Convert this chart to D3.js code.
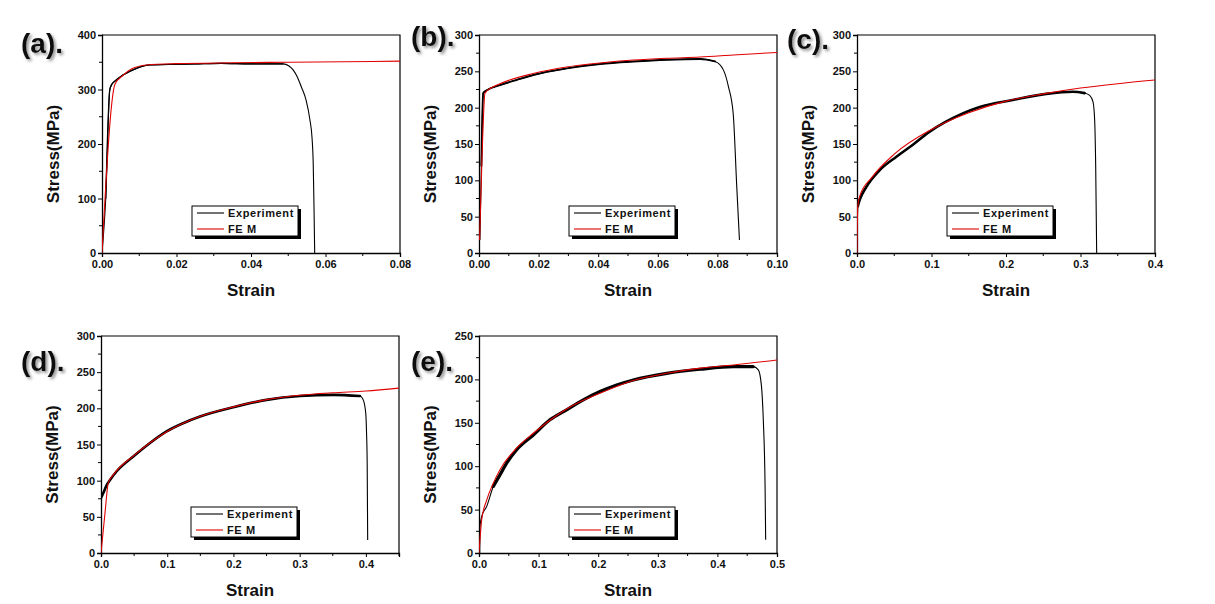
<!DOCTYPE html>
<html>
<head>
<meta charset="utf-8">
<script src="https://cdn.jsdelivr.net/npm/d3@7"></script>
<style>
html,body{margin:0;padding:0;background:#fff;}
svg{display:block;font-family:"Liberation Sans",Arial,sans-serif;}
</style>
</head>
<body>
<svg id="chart" width="1215" height="604"></svg>
<script>
// ---------- data (strain, stress MPa) ----------
const panelLabels = ["(a).", "(b).", "(c).", "(d).", "(e)."];
const seriesNames = ["Experiment", "FE M"];
const xTickLabelsA = ["0.00", "0.02", "0.04", "0.06", "0.08"];
const xTickLabelsB = ["0.00", "0.02", "0.04", "0.06", "0.08", "0.10"];
const xTickLabelsC = ["0.0", "0.1", "0.2", "0.3", "0.4"];
const xTickLabelsD = ["0.0", "0.1", "0.2", "0.3", "0.4"];
const xTickLabelsE = ["0.0", "0.1", "0.2", "0.3", "0.4", "0.5"];
const yTicksA = [0, 100, 200, 300, 400];
const yTicksB = [0, 50, 100, 150, 200, 250, 300];
const yTicksC = [0, 50, 100, 150, 200, 250, 300];
const yTicksD = [0, 50, 100, 150, 200, 250, 300];
const yTicksE = [0, 50, 100, 150, 200, 250];

const expA = [[0,0],[0.001,100],[0.0021,300],[0.0026,309],[0.0034,315],[0.0055,326],[0.0083,336],[0.0105,342],[0.0128,345],[0.018,346],[0.025,347],[0.032,348],[0.04,347],[0.0486,347],[0.0502,343],[0.0513,336],[0.0525,322],[0.0535,305],[0.0548,280],[0.0558,245],[0.0564,210],[0.0567,165],[0.0569,90],[0.0571,0]];
const femA = [[0,0],[0.0035,310],[0.0055,325],[0.008,338],[0.012,345],[0.02,347.5],[0.035,349],[0.05,350],[0.065,351],[0.08,352]];

const expB = [[0.0003,18],[0.0008,120],[0.0014,220],[0.0026,224],[0.007,231],[0.0125,238],[0.0182,245],[0.0294,254],[0.0406,260],[0.0518,263.5],[0.063,266],[0.0742,267],[0.0792,263.6],[0.082,252],[0.0837,229],[0.0853,192],[0.0865,91],[0.0874,18]];
const femB = [[0.0002,18],[0.001,130],[0.002,220],[0.004,227],[0.007,233],[0.0182,247],[0.0294,256],[0.0406,261.5],[0.0518,265.5],[0.063,268],[0.0742,269.7],[0.0853,272.5],[0.1,276]];

const expC = [[0,0],[0.001,64],[0.0036,73],[0.0126,91],[0.0305,114],[0.0529,132.5],[0.075,149],[0.0976,167],[0.12,181],[0.1647,201],[0.209,210.6],[0.254,219],[0.29,222],[0.3055,220],[0.3123,217],[0.3168,208],[0.319,183],[0.3204,119],[0.3217,0]];
const femC = [[0,0],[0.001,64],[0.0036,78],[0.02,104],[0.05,136],[0.1,170],[0.15,193],[0.2,209],[0.25,219],[0.3,227],[0.35,233],[0.4,238]];

const expD = [[0,37],[0.001,78],[0.0035,83],[0.0086,94],[0.0136,101],[0.0237,113],[0.0488,133.4],[0.074,152],[0.099,168],[0.124,179.4],[0.1495,188.7],[0.1998,201.5],[0.25,211.7],[0.3005,217],[0.351,218.6],[0.391,217],[0.396,211.7],[0.3998,193],[0.401,166],[0.402,120],[0.4027,18]];
const femD = [[0,0],[0.006,55],[0.011,97],[0.0186,108],[0.05,135],[0.1,168],[0.15,189],[0.2,202],[0.25,212],[0.3,218],[0.35,221.5],[0.4,224],[0.45,228]];

const expE = [[0.0012,0],[0.0017,30.7],[0.0045,42],[0.0129,53.7],[0.024,76.7],[0.0352,90],[0.0464,103.5],[0.0632,119],[0.0912,136],[0.119,153.4],[0.147,165],[0.175,176.4],[0.203,186],[0.231,193.6],[0.259,199.4],[0.315,207],[0.371,211.7],[0.427,214.7],[0.46,214.7],[0.4687,211],[0.474,191.7],[0.477,153.4],[0.48,76.7],[0.481,15.3]];
const femE = [[0,0],[0.0045,38],[0.0129,61],[0.024,80.5],[0.0352,96],[0.0632,121],[0.0912,138],[0.119,153],[0.147,166],[0.203,184],[0.259,198.7],[0.315,207],[0.371,213],[0.427,216.6],[0.5,222.4]];

// ---------- layout ----------
const panels = [
  {label: panelLabels[0], exp: expA, fem: femA, xMax: 0.08, xStep: 0.02, yMax: 400, yStep: 100, xLabels: xTickLabelsA, yTicks: yTicksA,
   x0: 102, x1: 400, y0: 35, y1: 253, lx: 21, ly: 53, band: 1.3, dropAt: 0.049},
  {label: panelLabels[1], exp: expB, fem: femB, xMax: 0.10, xStep: 0.02, yMax: 300, yStep: 50, xLabels: xTickLabelsB, yTicks: yTicksB,
   x0: 479, x1: 777, y0: 35, y1: 253, lx: 411, ly: 46, band: 1.9, dropAt: 0.08},
  {label: panelLabels[2], exp: expC, fem: femC, xMax: 0.4, xStep: 0.1, yMax: 300, yStep: 50, xLabels: xTickLabelsC, yTicks: yTicksC,
   x0: 857, x1: 1155, y0: 35, y1: 253, lx: 787, ly: 49, band: 2.6, dropAt: 0.31},
  {label: panelLabels[3], exp: expD, fem: femD, xMax: 0.45, xStep: 0.1, yMax: 300, yStep: 50, xLabels: xTickLabelsD, yTicks: yTicksD,
   x0: 101, x1: 399, y0: 336, y1: 553, lx: 21, ly: 371, band: 2.6, dropAt: 0.392},
  {label: panelLabels[4], exp: expE, fem: femE, xMax: 0.5, xStep: 0.1, yMax: 250, yStep: 50, xLabels: xTickLabelsE, yTicks: yTicksE,
   x0: 479, x1: 777, y0: 336, y1: 553, lx: 411, ly: 371, band: 3.2, dropAt: 0.465}
];

const RED = "#e00000";
const svg = d3.select("#chart");

const defs = svg.append("defs");
const f = defs.append("filter").attr("id", "shadow").attr("x", "-20%").attr("y", "-20%").attr("width", "150%").attr("height", "150%");
f.append("feDropShadow").attr("dx", 2).attr("dy", 2).attr("stdDeviation", 1.6).attr("flood-color", "#777").attr("flood-opacity", 0.8);

panels.forEach((p, i) => {
  const x = d3.scaleLinear().domain([0, p.xMax]).range([p.x0, p.x1]);
  const y = d3.scaleLinear().domain([0, p.yMax]).range([p.y1, p.y0]);
  const g = svg.append("g");

  const cid = "clip" + i;
  defs.append("clipPath").attr("id", cid).append("rect")
    .attr("x", p.x0).attr("y", p.y0 - 1).attr("width", p.x1 - p.x0 + 1).attr("height", p.y1 - p.y0 + 1);

  const xMajor = d3.range(0, p.xMax + 1e-9, p.xStep);
  const xMinor = d3.range(p.xStep / 2, p.xMax + 1e-9, p.xStep);
  const yMinor = d3.range(p.yStep / 2, p.yMax, p.yStep);

  const xAxis = d3.axisBottom(x).tickValues(xMajor).tickSize(4).tickPadding(3)
    .tickFormat((d, k) => p.xLabels[k]);
  const gx = g.append("g").attr("transform", `translate(0,${p.y1})`).call(xAxis);
  gx.append("g").selectAll("line").data(xMinor).join("line")
    .attr("x1", d => x(d)).attr("x2", d => x(d)).attr("y1", 0).attr("y2", 3).attr("stroke", "#000");

  const yAxis = d3.axisLeft(y).tickValues(p.yTicks).tickSize(4).tickPadding(2).tickFormat(d3.format("d"));
  const gy = g.append("g").attr("transform", `translate(${p.x0},0)`).call(yAxis);
  gy.append("g").selectAll("line").data(yMinor).join("line")
    .attr("y1", d => y(d)).attr("y2", d => y(d)).attr("x1", 0).attr("x2", -3).attr("stroke", "#000");

  [gx, gy].forEach(a => {
    a.select(".domain").attr("stroke", "#000").attr("stroke-width", 1.3);
    a.selectAll(".tick line").attr("stroke", "#000");
    a.selectAll("text").attr("font-size", 11).attr("font-weight", "bold").attr("fill", "#111")
      .attr("font-family", "'Liberation Sans', Arial, sans-serif");
  });

  g.append("path").attr("d", `M${p.x0},${p.y0}H${p.x1}V${p.y1}`).attr("fill", "none").attr("stroke", "#000").attr("stroke-width", 1.2);

  g.append("text").attr("x", (p.x0 + p.x1) / 2).attr("y", p.y1 + 43).attr("text-anchor", "middle")
    .attr("font-size", 17).attr("font-weight", "bold").attr("fill", "#111").text("Strain");
  const ty = (p.y0 + p.y1) / 2 + 10;
  g.append("text").attr("transform", `translate(${p.x0 - 43},${ty}) rotate(-90)`).attr("text-anchor", "middle")
    .attr("font-size", 17).attr("font-weight", "bold").attr("fill", "#111").text("Stress(MPa)");

  const line = d3.line().x(d => x(d[0])).y(d => y(d[1])).curve(d3.curveMonotoneX);
  const plot = g.append("g").attr("clip-path", `url(#${cid})`);
  const bandData = p.exp.filter(d => d[0] <= p.dropAt && d[1] > 60);
  plot.append("path").datum(bandData).attr("d", line).attr("fill", "none")
    .attr("stroke", "#000").attr("stroke-width", p.band).attr("stroke-linejoin", "round").attr("stroke-linecap", "round");
  plot.append("path").datum(p.exp).attr("d", line).attr("fill", "none")
    .attr("stroke", "#000").attr("stroke-width", 1.1);
  plot.append("path").datum(p.fem).attr("d", line).attr("fill", "none")
    .attr("stroke", RED).attr("stroke-width", 1.1);

  const lgx = p.x0 + 90, lgy = p.y0 + 171, lw = 106, lh = 30;
  const lg = g.append("g");
  lg.append("rect").attr("x", lgx + 3).attr("y", lgy + 3).attr("width", lw).attr("height", lh).attr("fill", "#000");
  lg.append("rect").attr("x", lgx).attr("y", lgy).attr("width", lw).attr("height", lh).attr("fill", "#fff")
    .attr("stroke", "#000").attr("stroke-width", 1);
  [[ "#000", seriesNames[0], 7 ], [ RED, seriesNames[1], 23 ]].forEach(([c, t, dy]) => {
    lg.append("line").attr("x1", lgx + 5).attr("x2", lgx + 32).attr("y1", lgy + dy).attr("y2", lgy + dy)
      .attr("stroke", c).attr("stroke-width", 1.1);
    lg.append("text").attr("x", lgx + 36).attr("y", lgy + dy + 4).attr("font-size", 11).attr("font-weight", "bold")
      .attr("letter-spacing", 0.6).attr("fill", "#111").text(t);
  });

  svg.append("text").attr("x", p.lx).attr("y", p.ly).attr("font-size", 28).attr("font-weight", "bold")
    .attr("fill", "#111").attr("filter", "url(#shadow)").text(p.label);
});
</script>
</body>
</html>
